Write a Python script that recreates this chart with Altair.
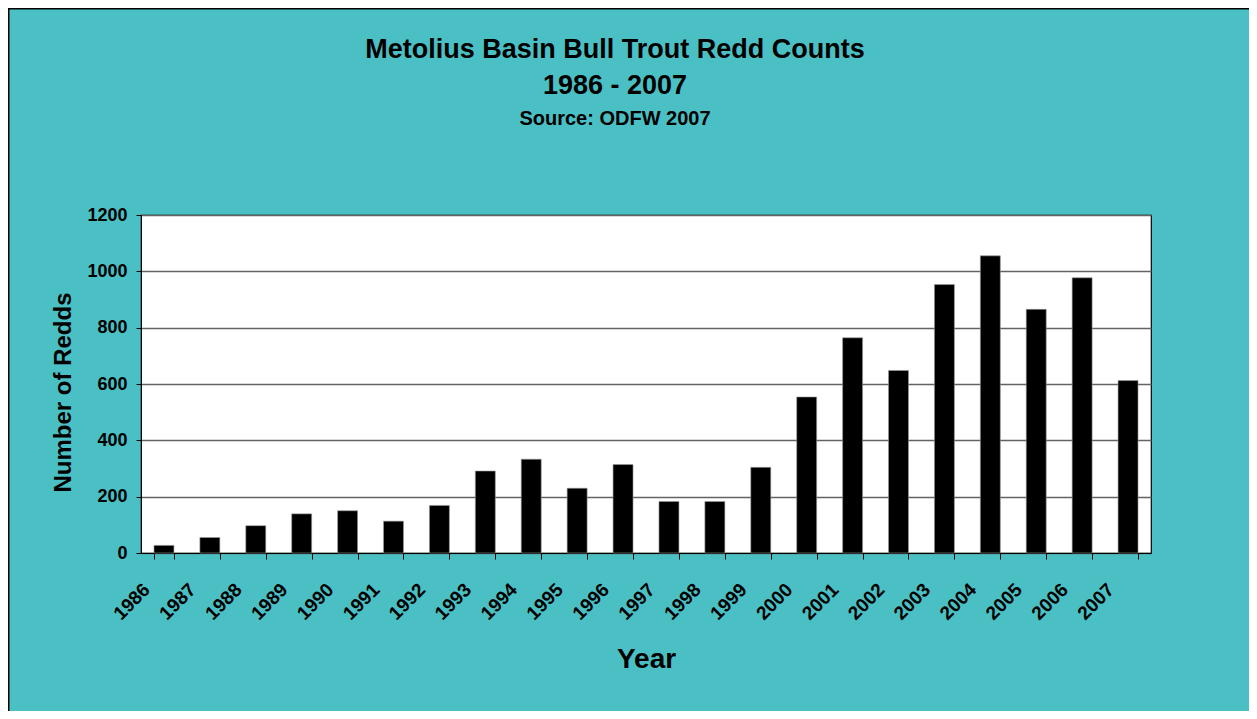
import altair as alt
import pandas as pd

years = ["1986", "1987", "1988", "1989", "1990", "1991", "1992", "1993", "1994",
         "1995", "1996", "1997", "1998", "1999", "2000", "2001", "2002", "2003",
         "2004", "2005", "2006", "2007"]
redds = [27, 55, 97, 139, 150, 113, 169, 291, 333, 230, 314, 183, 183, 304,
         554, 764, 648, 953, 1055, 865, 977, 612]
y_ticks = [0, 200, 400, 600, 800, 1000, 1200]

df = pd.DataFrame({"Year": years, "Redds": redds})

FONT = "Liberation Sans"
BG = "#4AC0C5"

bars = alt.Chart(df).mark_bar(color="black", stroke="#9a9a9a", strokeWidth=0.6).encode(
    x=alt.X(
        "Year:N",
        sort=None,
        scale=alt.Scale(paddingInner=0.565, paddingOuter=0.2825),
        axis=alt.Axis(
            title="Year",
            titleFont=FONT, titleFontSize=28, titleFontWeight="bold", titleColor="black",
            titleY=114, titleBaseline="alphabetic",
            labelFont=FONT, labelFontSize=19, labelFontWeight="bold", labelColor="black",
            labelAngle=-45, labelAlign="right", labelBaseline="top",
            labelOffset=-24, labelPadding=21,
            tickBand="extent", tickSize=6, tickColor="black",
            domainColor="black", domainWidth=1, grid=False,
        ),
    ),
    y=alt.Y(
        "Redds:Q",
        scale=alt.Scale(domain=[0, 1200], nice=False),
        axis=alt.Axis(
            title="Number of Redds",
            titleFont=FONT, titleFontSize=24, titleFontWeight="bold", titleColor="black",
            titleX=-71, titleY=177, titleBaseline="alphabetic", titleAngle=270,
            labelFont=FONT, labelFontSize=18, labelFontWeight="bold", labelColor="black",
            labelPadding=9, values=y_ticks, format="d",
            tickSize=5, tickColor="black", domainColor="black",
            grid=True, gridColor="#636363", gridWidth=1.4,
        ),
    ),
)

frame_src = alt.Data(values=[{"k": 1}])
left_border = alt.Chart(frame_src).mark_rule(color="black", strokeWidth=2).encode(
    x=alt.value(-132.5), y=alt.value(-207), y2=alt.value(496)
)
top_border = alt.Chart(frame_src).mark_rule(color="black", strokeWidth=2).encode(
    x=alt.value(-133), x2=alt.value(1108), y=alt.value(-206.5)
)

chart = alt.layer(bars, left_border, top_border).properties(
    width=1010,
    height=338,
    background=BG,
    padding={"left": 133, "top": 207, "right": 98, "bottom": 158},
    autosize=alt.AutoSizeParams(type="none"),
    title=alt.TitleParams(
        text=["Metolius Basin Bull Trout Redd Counts", "1986 - 2007"],
        subtitle="Source: ODFW 2007",
        font=FONT, fontSize=27, fontWeight="bold", color="black",
        subtitleFont=FONT, subtitleFontSize=20, subtitleFontWeight="bold",
        subtitleColor="black",
        anchor="middle", dx=-31, offset=-123, lineHeight=36, subtitlePadding=9,
    ),
).configure_view(stroke="black", strokeWidth=1.2, fill="white")

chart.save("out.html", embed_options={"renderer": "svg", "actions": False})
